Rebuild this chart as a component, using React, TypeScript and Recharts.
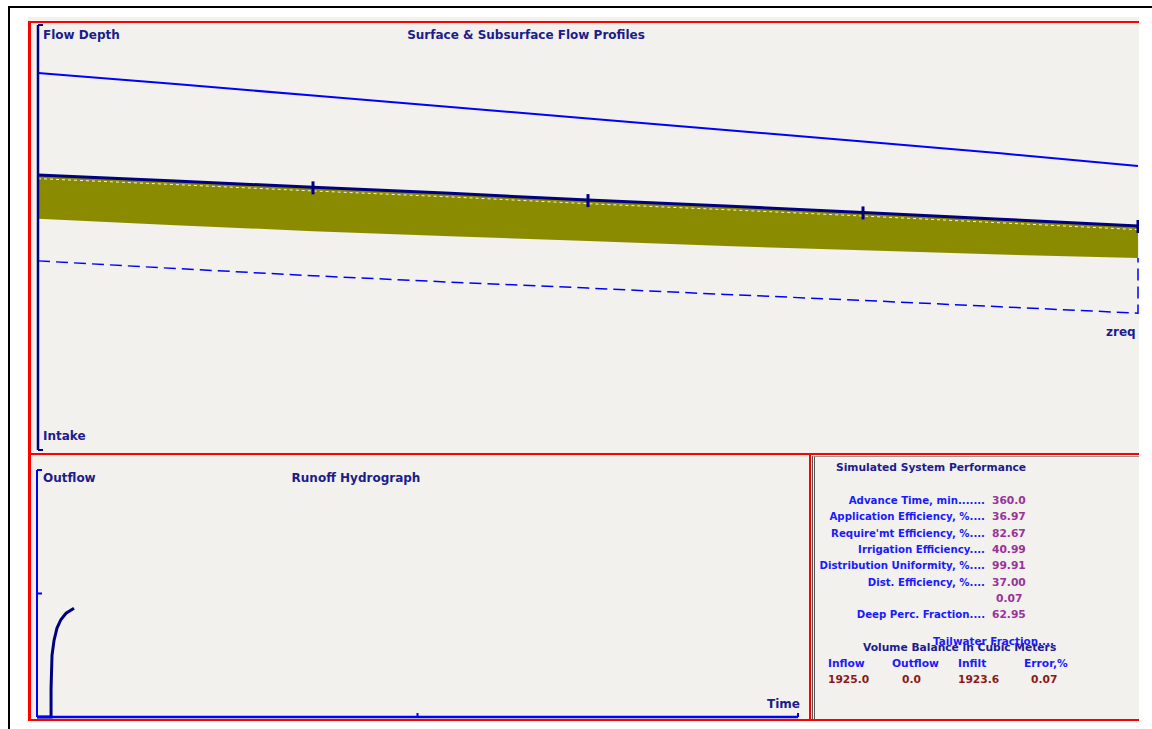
import React from 'react';
import { ComposedChart, LineChart, Line, Area, XAxis, YAxis } from 'recharts';

// distance along the field, % of length
const distance = [0, 12.5, 25, 37.5, 50, 62.5, 75, 87.5, 100];
// profiles (relative depth units, 0 = bottom of plot)
const upperProfile = [88.7, 86.1, 83.4, 80.7, 78.0, 75.3, 72.6, 69.8, 66.8];
const surfaceProfile = [64.7, 63.3, 61.8, 60.4, 58.8, 57.4, 55.9, 54.3, 52.7];
const infiltBottom = [54.4, 52.9, 51.5, 50.3, 49.2, 48.0, 47.0, 46.0, 45.2];
const zreqProfile = [44.5, 42.7, 41.0, 39.5, 38.1, 36.6, 35.2, 33.7, 32.2];
const quarterMarks = [25, 50, 75, 100];

// runoff hydrograph
const hydroTime = [0, 13.3, 13.3, 14.2, 16.1, 18.9, 22.7, 27.5, 35.0];
const hydroFlow = [0, 0, 0.23, 0.5, 0.62, 0.72, 0.79, 0.84, 0.88];

// performance panel
const perfLabels = [
  'Advance Time, min.......',
  'Application Efficiency, %....',
  "Require'mt Efficiency, %....",
  'Irrigation Efficiency....',
  'Distribution Uniformity, %....',
  'Dist. Efficiency, %....',
  '',
  'Deep Perc. Fraction....',
];
const perfValues = ['360.0', '36.97', '82.67', '40.99', '99.91', '37.00', '0.07', '62.95'];
const balanceHeads = ['Inflow', 'Outflow', 'Infilt', 'Error,%'];
const balanceValues = ['1925.0', '0.0', '1923.6', '0.07'];

const profileData = distance.map((x, i) => ({
  x,
  upper: upperProfile[i],
  surface: surfaceProfile[i],
  wet: surfaceProfile[i] - 0.85,
  band: [infiltBottom[i], surfaceProfile[i]],
}));
const zreqData = [
  ...distance.map((x, i) => ({ x, y: zreqProfile[i] })),
  { x: 100, y: infiltBottom[infiltBottom.length - 1] },
];
const hydroData = hydroTime.map((t, i) => ({ t, q: hydroFlow[i] }));

const NAVY = '#000080';
const BLUE = '#0000FF';
const LABEL = '#1c1c8c';
const BG = '#F2F1EE';

const noTick = () => <g />;

function Txt({ x, y, color = LABEL, size = 12, align = 'left', children }: any) {
  const tx = align === 'left' ? '0' : align === 'right' ? '-100%' : '-50%';
  return (
    <div
      style={{
        position: 'absolute',
        left: x,
        top: y,
        transform: `translate(${tx}, -50%)`,
        color,
        fontSize: size,
        lineHeight: 1,
        whiteSpace: 'nowrap',
      }}
    >
      {children}
    </div>
  );
}

const QuarterDot = (props: any) => {
  const { cx, cy, payload, index } = props;
  if (!quarterMarks.includes(payload.x)) return <g key={index} />;
  return <line key={index} x1={cx} x2={cx} y1={cy - 6} y2={cy + 7} stroke={NAVY} strokeWidth={3} />;
};

export default function App() {
  const colHead = [828, 892, 958, 1024];
  const colVal = [828, 902, 958, 1031];
  return (
    <div
      style={{
        position: 'fixed',
        left: 0,
        top: 0,
        width: 1152,
        height: 729,
        background: '#fff',
        overflow: 'hidden',
        fontFamily: '"DejaVu Sans", sans-serif',
        fontWeight: 'bold',
      }}
    >
      <div style={{ position: 'absolute', left: 8, top: 6, width: 1200, height: 800, borderLeft: '2px solid #000', borderTop: '2px solid #000' }} />
      <div style={{ position: 'absolute', left: 0, top: 0, width: 1139, height: 729, overflow: 'hidden' }}>
        <div style={{ position: 'absolute', left: 28, top: 17, width: 1111, height: 704, background: BG }} />
        {/* panel frames */}
        <div style={{ position: 'absolute', left: 28, top: 21, width: 1130, height: 434, boxSizing: 'border-box', border: '2px solid #ff0000', borderLeftWidth: 3 }} />
        <div style={{ position: 'absolute', left: 28, top: 453, width: 783, height: 268, boxSizing: 'border-box', border: '2px solid #ff0000', borderLeftWidth: 3 }} />
        <div style={{ position: 'absolute', left: 809, top: 453, width: 340, height: 268, boxSizing: 'border-box', border: '2px solid #ff0000' }} />
        <div style={{ position: 'absolute', left: 812, top: 456, width: 340, height: 263, boxSizing: 'border-box', borderLeft: '3px double #555', borderTop: '1px solid #999' }} />

        <div style={{ position: 'absolute', left: 0, top: 0 }}>
          <ComposedChart width={1152} height={460} data={profileData} margin={{ top: 25, right: 14, bottom: 10, left: 38 }}>
            <XAxis dataKey="x" type="number" domain={[0, 100]} hide />
            <YAxis
              type="number"
              domain={[0, 100]}
              ticks={[0, 100]}
              width={1}
              mirror
              tick={noTick}
              tickSize={5}
              axisLine={{ stroke: NAVY, strokeWidth: 2.5 }}
              tickLine={{ stroke: NAVY, strokeWidth: 2 }}
            />
            <Area dataKey="band" type="linear" fill="#8B8B00" fillOpacity={1} stroke="none" isAnimationActive={false} />
            <Line dataKey="wet" type="linear" stroke="#f4f4e6" strokeWidth={1} strokeDasharray="3 3" dot={false} isAnimationActive={false} />
            <Line dataKey="surface" type="linear" stroke={NAVY} strokeWidth={3} dot={QuarterDot} isAnimationActive={false} />
            <Line dataKey="upper" type="linear" stroke={BLUE} strokeWidth={2} dot={false} isAnimationActive={false} />
            <Line data={zreqData} dataKey="y" type="linear" stroke={BLUE} strokeWidth={1.5} strokeDasharray="12 6" dot={false} isAnimationActive={false} />
          </ComposedChart>
        </div>

        <div style={{ position: 'absolute', left: 0, top: 456 }}>
          <LineChart width={820} height={270} data={hydroData} margin={{ top: 14, right: 22, bottom: 9, left: 37 }}>
            <XAxis
              dataKey="t"
              type="number"
              domain={[0, 720]}
              ticks={[0, 360, 720]}
              height={1}
              mirror
              tick={noTick}
              tickSize={4}
              axisLine={{ stroke: BLUE, strokeWidth: 2.5 }}
              tickLine={{ stroke: BLUE, strokeWidth: 2 }}
            />
            <YAxis
              type="number"
              domain={[0, 2]}
              ticks={[0, 1, 2]}
              width={1}
              mirror
              tick={noTick}
              tickSize={5}
              axisLine={{ stroke: BLUE, strokeWidth: 2 }}
              tickLine={{ stroke: BLUE, strokeWidth: 2 }}
            />
            <Line dataKey="q" type="linear" stroke={NAVY} strokeWidth={3} dot={false} isAnimationActive={false} />
          </LineChart>
        </div>

        <Txt x={43} y={35}>Flow Depth</Txt>
        <Txt x={526} y={35} align="center">Surface &amp; Subsurface Flow Profiles</Txt>
        <Txt x={1106} y={332}>zreq</Txt>
        <Txt x={43} y={436}>Intake</Txt>

        <Txt x={43} y={478}>Outflow</Txt>
        <Txt x={356} y={478} align="center">Runoff Hydrograph</Txt>
        <Txt x={800} y={704} align="right">Time</Txt>

        <Txt x={836} y={468} size={10.7}>Simulated System Performance</Txt>
        {perfLabels.map((l, i) => (
          <React.Fragment key={i}>
            {l && (
              <Txt x={985} y={501 + i * 16.3} size={10.2} color="#1a1aff" align="right">
                {l}
              </Txt>
            )}
            <Txt x={l ? 992 : 996} y={501 + i * 16.3} size={10.7} color="#993399">
              {perfValues[i]}
            </Txt>
          </React.Fragment>
        ))}
        <Txt x={863} y={648} size={10.7} color={LABEL}>Volume Balance in Cubic Meters</Txt>
        <Txt x={933} y={641} size={10.4} color="#1a1aff">Tailwater Fraction....</Txt>
        {balanceHeads.map((h, i) => (
          <Txt key={h} x={colHead[i]} y={664} size={10.7} color="#1a1aff">{h}</Txt>
        ))}
        {balanceValues.map((v, i) => (
          <Txt key={i} x={colVal[i]} y={680} size={10.7} color="#8b1a1a">{v}</Txt>
        ))}
      </div>
    </div>
  );
}
